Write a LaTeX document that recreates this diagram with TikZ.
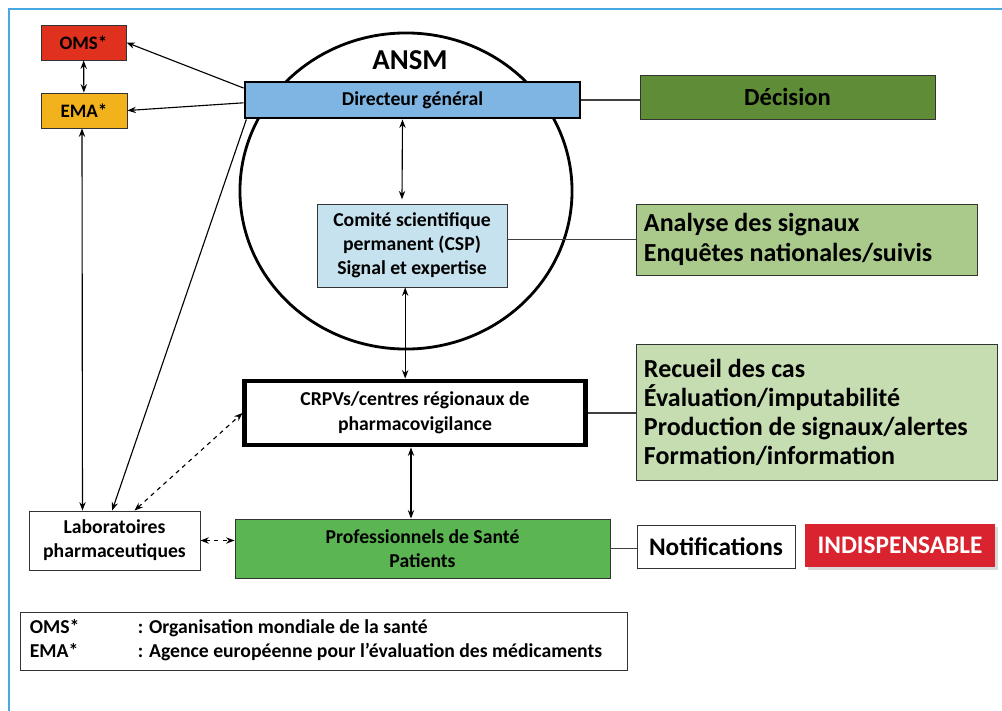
\documentclass[tikz,border=0pt]{standalone}
\usepackage{fontspec}
\setmainfont{Carlito}
\usepackage{tikz}
\usetikzlibrary{
  calc,
  arrows,
  arrows.meta,
  positioning,
  shadows,
  shapes.geometric
}

\definecolor{omsred}{HTML}{E0301E}
\definecolor{emaorange}{HTML}{F2B21C}
\definecolor{dgblue}{HTML}{7FB5E3}
\definecolor{cspblue}{HTML}{C6E2EE}
\definecolor{decgreen}{HTML}{5F8C37}
\definecolor{anagreen}{HTML}{AACA8B}
\definecolor{recgreen}{HTML}{C5DDB0}
\definecolor{profgreen}{HTML}{5CB553}
\definecolor{indred}{HTML}{D9232E}
\definecolor{framebl}{HTML}{4AA8E0}

\begin{document}
\begin{tikzpicture}[
            x=0.025cm, y=-0.025cm,
            font=\bfseries,
            box/.style={rectangle, draw=black!80, line width=0.6pt, text centered, inner sep=2pt, font=\bfseries\fontsize{14}{17}\selectfont},
            bigtext/.style={font=\bfseries\fontsize{18}{21}\selectfont},
            sidebox/.style={rectangle, draw=black!80, line width=0.7pt, align=flush left, inner sep=5pt, font=\bfseries\fontsize{18.5}{20.5}\selectfont},
            arrow/.style={->, >={Stealth[length=6pt, width=4.5pt]}, line width=0.8pt},
            darrow/.style={<->, >={Stealth[length=6pt, width=4.5pt]}, line width=0.8pt},
            link/.style={line width=0.8pt, draw=black!75}
        ]
        \useasboundingbox (0,0) rectangle (1002,711);
        \draw [framebl, line width=1.4pt] (9,711) -- (9,9) -- (1002,9);

        % Noeuds
        \node (ansm) [ellipse, draw, line width=2pt, minimum width=8.3cm, minimum height=7.9cm] at (406,191) {};
        \node (ansmlbl) [font=\bfseries\fontsize{20.5}{24}\selectfont] at (410,60) {ANSM};

        \node (oms) [box, fill=omsred, minimum width=2.125cm, minimum height=0.875cm, font=\bfseries\fontsize{13.5}{16}\selectfont] at (83.5,42.5) {OMS*};
        \node (ema) [box, fill=emaorange, minimum width=2.15cm, minimum height=0.875cm, font=\bfseries\fontsize{13.5}{16}\selectfont] at (84,110.5) {EMA*};

        \node (dg) [box, fill=dgblue, draw=black, line width=2pt, minimum width=8.375cm, minimum height=0.9cm] at (412.5,100) {Directeur général};
        \node (dec) [box, bigtext, fill=decgreen, minimum width=7.375cm, minimum height=1.1cm, font=\bfseries\fontsize{17.5}{21}\selectfont] at (787.5,97) {Décision};

        \node (csp) [box, fill=cspblue, align=center, minimum width=4.75cm, minimum height=2.075cm, font=\bfseries\fontsize{14}{17}\selectfont] at (412,245.5)
            {Comité scientifique\\ permanent (CSP)\\ Signal et expertise};
        \node (ana) [sidebox, fill=anagreen, text width=8.5cm-10pt, minimum height=1.775cm, font=\bfseries\fontsize{18.5}{21.5}\selectfont] at (807,239.5)
            {Analyse des signaux\\ Enquêtes nationales/suivis};

        \node (crpv) [box, fill=white, draw=black, line width=3.5pt, align=center, minimum width=8.5cm, minimum height=1.6cm, font=\bfseries\fontsize{14}{18}\selectfont] at (415,413)
            {CRPVs/centres régionaux de\\ pharmacovigilance};
        \node (rec) [sidebox, fill=recgreen, text width=9cm-10pt, minimum height=3.375cm] at (817,412.5)
            {Recueil des cas\\ Évaluation/imputabilité\\ Production de signaux/alertes\\ Formation/information};

        \node (prof) [box, fill=profgreen, align=center, minimum width=9.375cm, minimum height=1.475cm] at (422.5,548.5)
            {Professionnels de Santé\\ Patients};
        \node (notif) [box, bigtext, fill=white, minimum width=3.95cm, minimum height=1.075cm] at (716,546.5)
            {Notifications};
        \node (indisp) [rectangle, bigtext, fill=indred, text=white, drop shadow={opacity=0.3}, minimum width=4.75cm, minimum height=1.075cm] at (900,545.5)
            {INDISPENSABLE};

        \node (lab) [box, fill=white, align=center, minimum width=4.275cm, minimum height=1.475cm] at (114.5,540.5)
            {Laboratoires\\ pharmaceutiques};

        \node (legend) [box, fill=white, align=flush left, minimum width=15.175cm, minimum height=1.45cm, text width=15.175cm-14pt] at (323.5,641)
            {\begin{tabular}{@{}p{2.7cm}@{}l@{}}
             OMS* & : Organisation mondiale de la santé\\
             EMA* & : Agence européenne pour l’évaluation des médicaments
             \end{tabular}};

        % Liens ANSM
        \draw [arrow] ([yshift=8.5pt]dg.west) -- (oms.east);
        \draw [arrow] ([yshift=-2pt]dg.west) -- (ema.east);
        \draw [darrow] (oms) -- (ema);
        \draw [darrow] ([xshift=-0.25cm]dg.south) -- ([xshift=-0.25cm, yshift=3pt]csp.north);
        \draw [darrow] ([xshift=-0.17cm]csp.south) -- ([xshift=-0.17cm]csp.south |- crpv.north);
        \draw [darrow] ([xshift=-0.1cm]crpv.south) -- ([xshift=-0.1cm]crpv.south |- prof.north);

        % Liens vers les missions
        \draw [link] (dg.east) -- (dg.east -| dec.west);
        \draw [link] (ana.west -| csp.east) -- (ana.west);
        \draw [link] (crpv.east) -- (crpv.east -| rec.west);
        \draw [link] (prof.east) -- (prof.east -| notif.west);

        % Laboratoires
        \draw [darrow] (ema.south -| 82,0) -- ([xshift=-0.8cm]lab.north);
        \draw [arrow] ([xshift=2pt]dg.south west) -- ([xshift=-0.06cm]lab.north);
        \draw [darrow, dashed] ([xshift=0.5cm]lab.north) -- (crpv.west);
        \draw [darrow, dashed] (lab.east) -- (lab.east -| prof.west);

    \end{tikzpicture}
\end{document}
